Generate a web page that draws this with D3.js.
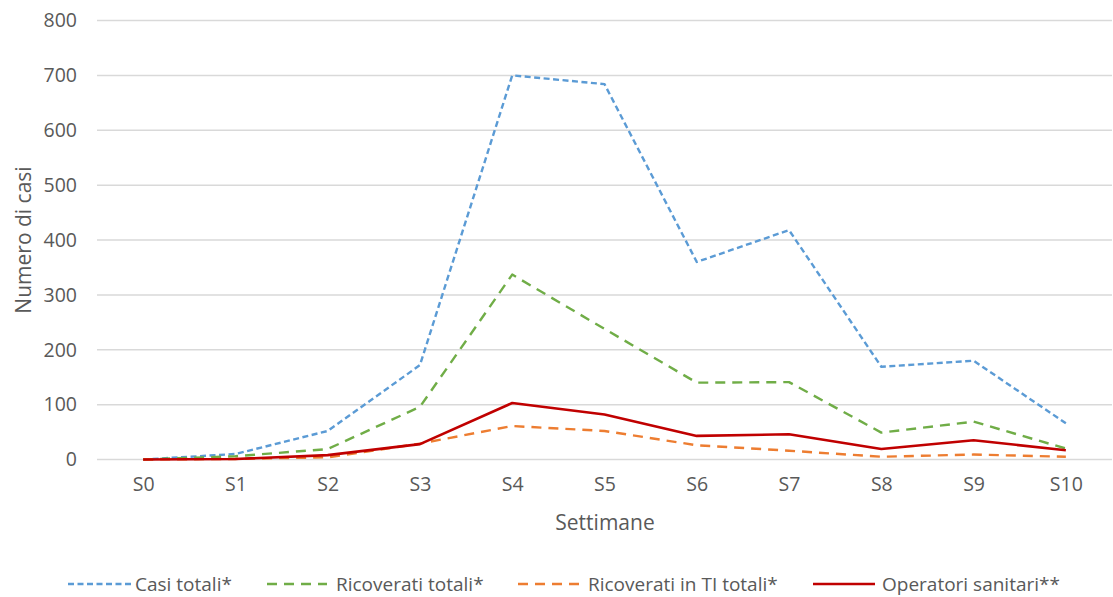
<!DOCTYPE html>
<html>
<head>
<meta charset="utf-8">
<script src="https://cdn.jsdelivr.net/npm/d3@7"></script>
<style>
  html, body { margin: 0; padding: 0; background: #fff; }
  svg { display: block; font-family: "Open Sans", "Noto Sans", sans-serif; }
</style>
</head>
<body>
<svg id="chart" width="1113" height="597"></svg>
<script>
// Weekly counts
const weeks = ["S0", "S1", "S2", "S3", "S4", "S5", "S6", "S7", "S8", "S9", "S10"];
const casiTotali = [0, 10, 52, 172, 700, 684, 360, 418, 169, 180, 66];
const ricoveratiTotali = [0, 6, 19, 96, 337, 238, 140, 141, 49, 69, 20];
const ricoveratiTI = [0, 1, 4, 29, 61, 52, 26, 16, 5, 9, 5];
const operatoriSanitari = [0, 1, 8, 28, 103, 82, 43, 46, 19, 35, 17];
const yTicks = [0, 100, 200, 300, 400, 500, 600, 700, 800];

const seriesNames = ["Casi totali*", "Ricoverati totali*", "Ricoverati in TI totali*", "Operatori sanitari**"];
const seriesValues = [casiTotali, ricoveratiTotali, ricoveratiTI, operatoriSanitari];
const seriesStyle = [
  { color: "#5B9BD5", dash: "6,3.5", width: 2.4 },
  { color: "#70AD47", dash: "10,7", width: 2.4 },
  { color: "#ED7D31", dash: "10,7", width: 2.4 },
  { color: "#C00000", dash: null, width: 2.6 }
];

const svg = d3.select("#chart");
const margin = { left: 97, right: 1, top: 20.5, bottom: 137.5 };
const W = 1113, H = 597;

const x = d3.scalePoint().domain(weeks).range([margin.left, W - margin.right]).padding(0.5);
const y = d3.scaleLinear().domain([0, 800]).range([H - margin.bottom, margin.top]);

const textColor = "#595959";

// Horizontal gridlines
svg.append("g")
  .selectAll("line")
  .data(yTicks)
  .join("line")
  .attr("x1", margin.left)
  .attr("x2", W - margin.right)
  .attr("y1", d => y(d))
  .attr("y2", d => y(d))
  .attr("stroke", "#D9D9D9")
  .attr("stroke-width", 1.5);

// Y axis labels
const yAxis = svg.append("g")
  .attr("transform", `translate(${margin.left - 20},0)`)
  .call(d3.axisLeft(y).tickValues(yTicks).tickSize(0).tickPadding(0));
yAxis.select(".domain").remove();
yAxis.selectAll("text")
  .attr("fill", textColor)
  .attr("font-size", 19.5)
  .attr("font-family", "'Open Sans', sans-serif");

// X axis labels
const xAxis = svg.append("g")
  .attr("transform", `translate(0,${y(0) + 18})`)
  .call(d3.axisBottom(x).tickSize(0).tickPadding(0));
xAxis.select(".domain").remove();
xAxis.selectAll("text")
  .attr("fill", textColor)
  .attr("font-size", 19.5)
  .attr("font-family", "'Open Sans', sans-serif");

// Axis titles
svg.append("text")
  .attr("x", 605)
  .attr("y", 522)
  .attr("text-anchor", "middle")
  .attr("dominant-baseline", "central")
  .attr("fill", textColor)
  .attr("font-size", 21)
  .text("Settimane");

svg.append("text")
  .attr("transform", "translate(23,240) rotate(-90)")
  .attr("text-anchor", "middle")
  .attr("dominant-baseline", "central")
  .attr("fill", textColor)
  .attr("font-size", 21)
  .text("Numero di casi");

// Lines
const line = d3.line()
  .x((d, i) => x(weeks[i]))
  .y(d => y(d));

seriesValues.forEach((vals, i) => {
  const s = seriesStyle[i];
  svg.append("path")
    .datum(vals)
    .attr("d", line)
    .attr("fill", "none")
    .attr("stroke", s.color)
    .attr("stroke-width", s.width)
    .attr("stroke-dasharray", s.dash)
    .attr("stroke-linejoin", "round");
});

// Legend
const legendY = 584;
const legendItems = [
  { x1: 68, x2: 132, tx: 135 },
  { x1: 267, x2: 327, tx: 336 },
  { x1: 518, x2: 580, tx: 588 },
  { x1: 813, x2: 875, tx: 882 }
];
const legend = svg.append("g");
legendItems.forEach((it, i) => {
  const s = seriesStyle[i];
  legend.append("line")
    .attr("x1", it.x1).attr("x2", it.x2)
    .attr("y1", legendY).attr("y2", legendY)
    .attr("stroke", s.color)
    .attr("stroke-width", s.width)
    .attr("stroke-dasharray", s.dash);
  legend.append("text")
    .attr("x", it.tx)
    .attr("y", legendY)
    .attr("dominant-baseline", "central")
    .attr("fill", textColor)
    .attr("font-size", 19)
    .text(seriesNames[i]);
});
</script>
</body>
</html>
